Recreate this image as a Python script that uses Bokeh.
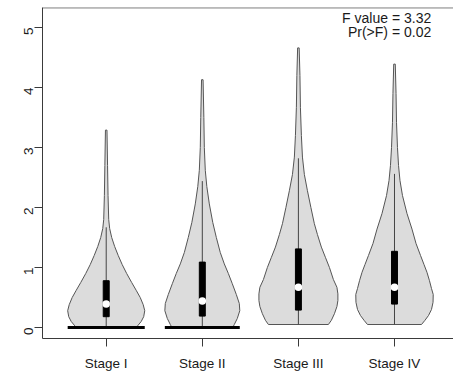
from bokeh.plotting import figure
from bokeh.models import FixedTicker, Span, Range1d, Label
from bokeh.embed import file_html
from bokeh.resources import INLINE
import math

# ---- data ----
stages = ["Stage I", "Stage II", "Stage III", "Stage IV"]

# violin outlines: value levels and half-widths (x units)
v1_y = [0.00, 0.04, 0.10, 0.18, 0.28, 0.38, 0.50, 0.62, 0.75, 0.90, 1.05, 1.20, 1.35, 1.50, 1.65, 1.80, 2.20, 2.70, 3.29]
v1_w = [0.312, 0.333, 0.364, 0.390, 0.401, 0.385, 0.354, 0.312, 0.265, 0.213, 0.166, 0.125, 0.088, 0.057, 0.036, 0.026, 0.019, 0.014, 0.008]

v2_y = [0.00, 0.05, 0.15, 0.28, 0.40, 0.55, 0.73, 0.90, 1.06, 1.25, 1.50, 1.75, 2.06, 2.35, 2.62, 3.00, 3.50, 4.13]
v2_w = [0.317, 0.333, 0.364, 0.390, 0.385, 0.354, 0.312, 0.271, 0.229, 0.187, 0.146, 0.109, 0.073, 0.047, 0.031, 0.021, 0.016, 0.008]

v3_y = [0.05, 0.12, 0.23, 0.35, 0.45, 0.56, 0.67, 0.80, 1.00, 1.17, 1.34, 1.55, 1.73, 2.00, 2.28, 2.55, 2.84, 3.20, 3.67, 4.20, 4.66]
v3_w = [0.312, 0.343, 0.375, 0.401, 0.411, 0.411, 0.401, 0.364, 0.323, 0.281, 0.239, 0.198, 0.166, 0.130, 0.094, 0.062, 0.042, 0.031, 0.021, 0.016, 0.008]

v4_y = [0.05, 0.12, 0.20, 0.30, 0.42, 0.55, 0.65, 0.78, 0.92, 1.05, 1.20, 1.40, 1.64, 1.90, 2.20, 2.45, 2.70, 3.00, 3.42, 3.90, 4.39]
v4_w = [0.281, 0.317, 0.354, 0.385, 0.401, 0.403, 0.385, 0.364, 0.338, 0.307, 0.271, 0.224, 0.182, 0.130, 0.083, 0.057, 0.042, 0.031, 0.021, 0.016, 0.008]

# box statistics
mins = [0.00, 0.00, 0.05, 0.05]
q1 = [0.18, 0.19, 0.29, 0.39]
medians = [0.39, 0.44, 0.67, 0.67]
q3 = [0.78, 1.09, 1.31, 1.27]
upper_whisker = [1.67, 2.44, 2.82, 2.56]

y_ticks = [0, 1, 2, 3, 4, 5]
f_value = 3.32
p_value = 0.02

# ---- figure ----
p = figure(width=453, height=374, output_backend="svg", toolbar_location=None,
           x_range=Range1d(0.337, 4.614), y_range=Range1d(-0.1833, 5.3333),
           min_border_left=42, min_border_right=0, min_border_top=7, min_border_bottom=36)
p.outline_line_color = None
p.grid.visible = False
p.background_fill_color = "white"

font = "Liberation Sans"
axis_col = "#3a3a3a"

# axes
p.xaxis.ticker = FixedTicker(ticks=[1, 2, 3, 4])
p.xaxis.major_label_overrides = {i + 1: s for i, s in enumerate(stages)}
p.xaxis.minor_tick_line_color = None
p.xaxis.major_tick_in = 0
p.xaxis.major_tick_out = 8
p.xaxis.major_label_standoff = 9
p.xaxis.axis_line_color = axis_col
p.xaxis.major_tick_line_color = axis_col

p.yaxis.ticker = FixedTicker(ticks=y_ticks)
p.yaxis.minor_tick_line_color = None
p.yaxis.major_tick_in = 0
p.yaxis.major_tick_out = 8
p.yaxis.major_label_standoff = 6
p.yaxis.major_label_orientation = math.pi / 2
p.yaxis.axis_line_color = axis_col
p.yaxis.major_tick_line_color = axis_col

for ax in (p.xaxis, p.yaxis):
    ax.major_label_text_font = font
    ax.major_label_text_font_size = "13.5px"
    ax.major_label_text_color = "#1a1a1a"

# top frame line
p.add_layout(Span(location=5.3333 - 0.005, dimension="width", line_color=axis_col, line_width=1))

# violins
profiles = [(v1_y, v1_w), (v2_y, v2_w), (v3_y, v3_w), (v4_y, v4_w)]
xs, ys = [], []
for i, (vy, vw) in enumerate(profiles):
    c = i + 1
    left = [c - w for w in vw]
    right = [c + w for w in reversed(vw)]
    xs.append(left + right)
    ys.append(list(vy) + list(reversed(vy)))
p.patches(xs, ys, fill_color="#dcdcdc", line_color="#555555", line_width=1)

# whiskers
centers = [1, 2, 3, 4]
p.segment(x0=centers, y0=mins, x1=centers, y1=upper_whisker, line_color="#444444", line_width=1)

# boxes
bw = 0.031
p.quad(left=[c - bw for c in centers], right=[c + bw for c in centers],
       bottom=q1, top=q3, fill_color="black", line_color="black")

# medians
p.scatter(x=centers, y=medians, size=7.5, fill_color="white", line_color=None)

# base lines at zero for groups whose minimum is zero
for i, (vy, vw) in enumerate(profiles):
    if mins[i] == 0:
        c = i + 1
        hw = max(vw)
        p.segment(x0=[c - hw], y0=[0], x1=[c + hw], y1=[0], line_color="black", line_width=3)

# annotation
p.add_layout(Label(x=4.382, y=5.15, text=f"F value = {f_value:.2f}", text_align="right",
                   text_baseline="middle", text_font=font, text_font_size="14px", text_color="#1a1a1a"))
p.add_layout(Label(x=4.382, y=4.93, text=f"Pr(>F) = {p_value:.2f}", text_align="right",
                   text_baseline="middle", text_font=font, text_font_size="14px", text_color="#1a1a1a"))

open("out.html", "w").write(file_html(p, INLINE))
